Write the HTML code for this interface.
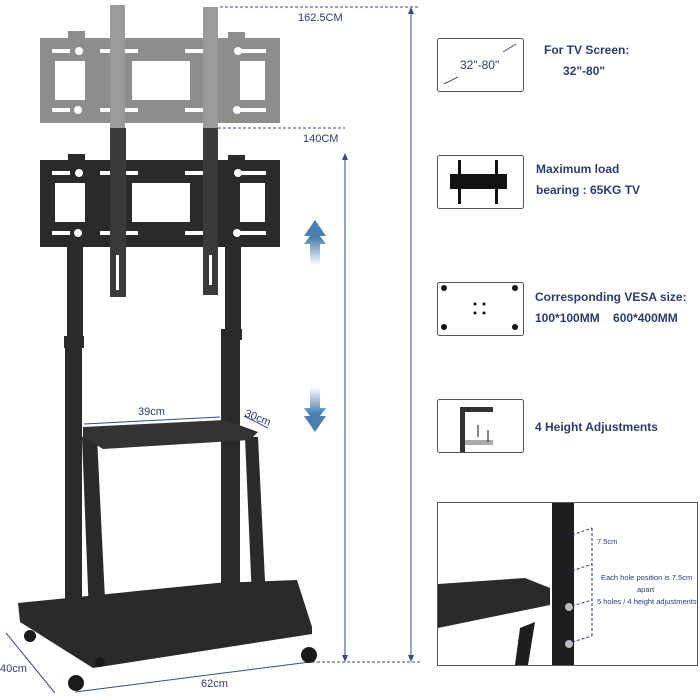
<!DOCTYPE html>
<html><head><meta charset="utf-8"><style>
html,body{margin:0;padding:0;background:#fff;}
svg{display:block;}
text{font-family:"Liberation Sans",sans-serif;fill:#2d3a6a;}
</style></head><body>
<svg width="700" height="700" viewBox="0 0 700 700" xmlns="http://www.w3.org/2000/svg">
<defs>
<linearGradient id="up" x1="0" y1="1" x2="0" y2="0"><stop offset="0" stop-color="#4a7fb0" stop-opacity="0"/><stop offset="0.6" stop-color="#4a7fb0"/></linearGradient>
<linearGradient id="dn" x1="0" y1="0" x2="0" y2="1"><stop offset="0" stop-color="#4a7fb0" stop-opacity="0"/><stop offset="0.6" stop-color="#4a7fb0"/></linearGradient>
</defs>
<g stroke="#3a4a7a" stroke-width="1" fill="none">
<line x1="220" y1="7" x2="420" y2="7" stroke-dasharray="3,2"/>
<line x1="218" y1="128" x2="345" y2="128" stroke-dasharray="3,2"/>
<line x1="312" y1="662" x2="420" y2="662" stroke-dasharray="3,2"/>
<line x1="411" y1="9" x2="411" y2="660"/>
<line x1="345" y1="155" x2="345" y2="660"/>
<line x1="6" y1="633" x2="55" y2="693"/>
<line x1="75" y1="692" x2="310" y2="662"/>
<line x1="84" y1="424" x2="220" y2="417"/>
<line x1="244" y1="416" x2="268" y2="428"/>
</g>
<g fill="#3a4a7a">
<polygon points="411,7 408,14 414,14"/><polygon points="411,662 408,655 414,655"/>
<polygon points="345,153 342,160 348,160"/><polygon points="345,662 342,655 348,655"/>
</g>
<g font-size="11"><text x="298" y="21">162.5CM</text><text x="303" y="142">140CM</text>
<text x="138" y="415">39cm</text><text x="244" y="416" transform="rotate(22 244 416)">30cm</text>
<text x="0" y="672">40cm</text><text x="201" y="687">62cm</text></g>
<polygon points="315,220 326,236 320,236 326,244 320,244 320,265 310,265 310,244 304,244 310,236 304,236" fill="url(#up)"/>
<polygon points="315,432 326,416 320,416 326,408 320,408 320,387 310,387 310,408 304,408 310,416 304,416" fill="url(#dn)"/>
<g fill="#8d8d8d">
<rect x="68" y="31" width="17" height="8"/><rect x="228" y="32" width="17" height="8"/>
<rect x="40" y="38" width="240" height="85"/>
</g>
<g fill="#fff">
<rect x="55" y="61" width="30" height="39"/><rect x="132" y="61" width="58" height="39"/><rect x="240" y="61" width="25" height="39"/>
<rect x="52" y="49" width="18" height="4"/><rect x="100" y="49" width="38" height="4"/><rect x="185" y="49" width="30" height="4"/><rect x="240" y="49" width="26" height="4"/>
<rect x="52" y="108" width="18" height="4"/><rect x="100" y="108" width="38" height="4"/><rect x="185" y="108" width="30" height="4"/><rect x="240" y="108" width="26" height="4"/>
<circle cx="79" cy="51" r="4"/><circle cx="238" cy="51" r="4"/><circle cx="78" cy="110" r="4"/><circle cx="237" cy="110" r="4"/>
</g>
<rect x="110" y="5" width="15" height="125" fill="#9a9a9a"/><rect x="203" y="7" width="15" height="122" fill="#9a9a9a"/>
<g fill="#2a2a2a">
<rect x="68" y="154" width="17" height="8"/><rect x="228" y="155" width="17" height="8"/>
<rect x="40" y="160" width="240" height="87"/>
<rect x="67" y="247" width="16" height="92"/><rect x="225" y="247" width="16" height="85"/>
<rect x="64" y="336" width="20" height="12"/><rect x="221" y="329" width="21" height="11"/>
<rect x="65" y="347" width="17" height="270"/><rect x="221" y="339" width="19" height="283"/>
</g>
<g fill="#fff">
<rect x="55" y="183" width="30" height="39"/><rect x="132" y="183" width="58" height="39"/><rect x="240" y="183" width="25" height="39"/>
<rect x="52" y="171" width="18" height="4"/><rect x="100" y="171" width="38" height="4"/><rect x="185" y="171" width="30" height="4"/><rect x="240" y="171" width="26" height="4"/>
<rect x="52" y="231" width="18" height="4"/><rect x="100" y="231" width="38" height="4"/><rect x="185" y="231" width="30" height="4"/><rect x="240" y="231" width="26" height="4"/>
<circle cx="79" cy="173" r="4"/><circle cx="238" cy="173" r="4"/><circle cx="78" cy="233" r="4"/><circle cx="237" cy="233" r="4"/>
</g>
<rect x="110" y="128" width="16" height="169" fill="#3a3a3a"/><rect x="203" y="128" width="15" height="167" fill="#3a3a3a"/>
<g fill="#fff"><rect x="116" y="255" width="3" height="35"/><rect x="209" y="255" width="3" height="30"/></g>
<g fill="#2a2a2a">
<polygon points="82,437 97,437 107,640 90,640"/>
<polygon points="245,437 258,437 267,622 253,622"/>
<polygon points="18,603 217,583 297,580 312,627 312,634 93,668 20,622"/>
</g>
<polygon points="83,427 225,420 258,432 250,440 103,449 83,437" fill="#333"/>
<g fill="#1a1a1a">
<circle cx="30" cy="636" r="6"/><circle cx="76" cy="683" r="8"/><circle cx="309" cy="655" r="8"/><circle cx="100" cy="662" r="5"/>
</g>
<g fill="none" stroke="#555" stroke-width="1">
<rect x="437.5" y="38.5" width="86" height="53" rx="2"/>
<rect x="437.5" y="155.5" width="86" height="53" rx="2"/>
<rect x="437.5" y="282.5" width="86" height="53" rx="2"/>
<rect x="437.5" y="399.5" width="86" height="53" rx="2"/>
<rect x="437.5" y="502.5" width="260" height="163"/>
<line x1="444" y1="84" x2="458" y2="77"/>
<line x1="503" y1="52" x2="516" y2="44"/>
</g>
<text x="460" y="69" font-size="12">32"-80"</text>
<rect x="450" y="174" width="57" height="15" fill="#111"/>
<rect x="458" y="160" width="3" height="44" fill="#111"/><rect x="495" y="160" width="3" height="44" fill="#111"/>
<g fill="#111"><circle cx="444" cy="288" r="3"/><circle cx="515" cy="288" r="3"/><circle cx="444" cy="327" r="3"/><circle cx="515" cy="327" r="3"/>
<circle cx="475" cy="304" r="1.5"/><circle cx="484" cy="304" r="1.5"/><circle cx="475" cy="313" r="1.5"/><circle cx="484" cy="313" r="1.5"/></g>
<rect x="460" y="407" width="5" height="45" fill="#333"/><rect x="460" y="407" width="33" height="5" fill="#333"/>
<rect x="465" y="440" width="28" height="5" fill="#aaa"/>
<line x1="478" y1="425" x2="478" y2="437" stroke="#111"/><line x1="488" y1="430" x2="488" y2="442" stroke="#111"/>
<g font-size="12" font-weight="bold">
<text x="544" y="54">For TV Screen:</text><text x="563" y="75">32"-80"</text>
<text x="536" y="173">Maximum load</text><text x="536" y="194">bearing : 65KG TV</text>
<text x="535" y="301">Corresponding VESA size:</text><text x="535" y="322">100*100MM&#160;&#160;&#160; 600*400MM</text>
<text x="535" y="431">4 Height Adjustments</text>
</g>
<rect x="552" y="503" width="22" height="162" fill="#1e1e1e"/>
<polygon points="438,584 525,578 550,588 550,605 438,628" fill="#2a2a2a"/>
<polygon points="520,628 535,622 528,665 515,665" fill="#1e1e1e"/>
<circle cx="569" cy="607" r="4" fill="#bbb"/><circle cx="569" cy="644" r="4" fill="#bbb"/>
<g stroke="#2d3a6a" stroke-dasharray="3,2" fill="none"><line x1="592" y1="528" x2="592" y2="638"/>
<line x1="572" y1="535" x2="592" y2="528"/><line x1="572" y1="571" x2="592" y2="564"/><line x1="572" y1="606" x2="592" y2="600"/><line x1="572" y1="642" x2="592" y2="636"/></g>
<g font-size="7.5"><text x="597" y="544">7.5cm</text><text x="601" y="580">Each hole position is 7.5cm</text><text x="637" y="592">apart</text><text x="597" y="604">5 holes / 4 height adjustments</text></g>
</svg>
</body></html>
